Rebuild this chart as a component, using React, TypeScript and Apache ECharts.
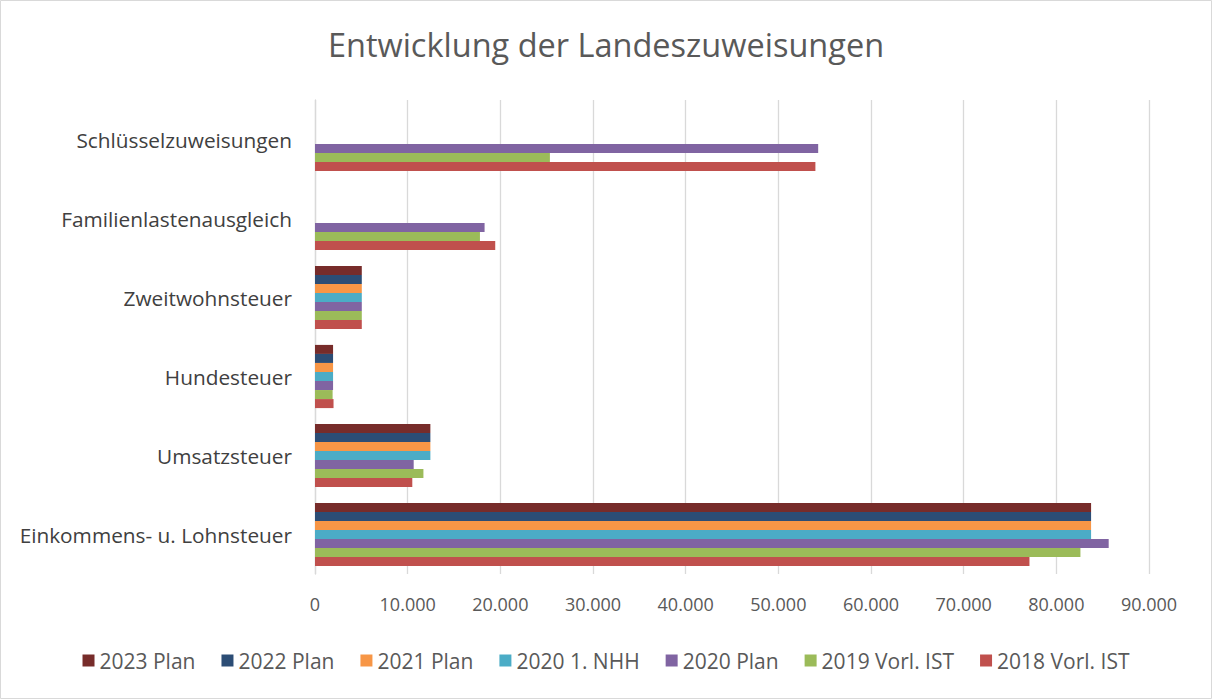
import React, { useEffect, useRef } from "react";
import * as echarts from "echarts";

const categories = [
  "Einkommens- u. Lohnsteuer",
  "Umsatzsteuer",
  "Hundesteuer",
  "Zweitwohnsteuer",
  "Familienlastenausgleich",
  "Schlüsselzuweisungen",
];

const seriesNames = [
  "2023 Plan",
  "2022 Plan",
  "2021 Plan",
  "2020 1. NHH",
  "2020 Plan",
  "2019 Vorl. IST",
  "2018 Vorl. IST",
];

const seriesColors = ["#772C2A", "#2C4D75", "#F79646", "#4BACC6", "#8064A2", "#9BBB59", "#C0504D"];

const v2023 = [83750, 12450, 1950, 5050, null, null];
const v2022 = [83750, 12450, 1950, 5050, null, null];
const v2021 = [83750, 12450, 1950, 5050, null, null];
const v2020NHH = [83750, 12450, 1950, 5050, null, null];
const v2020Plan = [85650, 10650, 1950, 5050, 18300, 54300];
const v2019 = [82600, 11700, 1900, 5050, 17800, 25350];
const v2018 = [77100, 10500, 2000, 5050, 19450, 54000];

const seriesValues = [v2023, v2022, v2021, v2020NHH, v2020Plan, v2019, v2018];

const xTicks = { min: 0, max: 90000, interval: 10000 };

const FONT = "'Open Sans', Lato, sans-serif";

export default function App() {
  const ref = useRef<HTMLDivElement>(null);
  useEffect(() => {
    if (!ref.current) return;
    const chart = echarts.init(ref.current, undefined, { renderer: "svg" });
    chart.setOption({
      animation: false,
      backgroundColor: "#ffffff",
      textStyle: { fontFamily: FONT },
      title: {
        text: "Entwicklung der Landeszuweisungen",
        left: "center",
        top: 23,
        textStyle: { fontSize: 32.5, fontWeight: "normal", color: "#595959", fontFamily: FONT },
      },
      graphic: [
        {
          type: "rect",
          shape: { x: 0.5, y: 0.5, width: 1211, height: 698 },
          style: { fill: "none", stroke: "#d9d9d9", lineWidth: 1 },
          silent: true,
        },
      ],
      legend: {
        data: seriesNames,
        top: 645,
        left: "center",
        icon: "rect",
        itemWidth: 12,
        itemHeight: 12,
        itemGap: 26,
        textStyle: { fontSize: 21, color: "#595959", fontFamily: FONT },
      },
      grid: { left: 315, right: 63, top: 100, bottom: 125, containLabel: false },
      xAxis: {
        type: "value",
        min: xTicks.min,
        max: xTicks.max,
        interval: xTicks.interval,
        axisLine: { show: false },
        axisTick: { show: false },
        splitLine: { show: true, lineStyle: { color: "#d9d9d9", width: 1.3 } },
        axisLabel: {
          fontSize: 18,
          color: "#595959",
          margin: 21,
          fontFamily: FONT,
          formatter: (v: number) => v.toString().replace(/\B(?=(\d{3})+(?!\d))/g, "."),
        },
      },
      yAxis: {
        type: "category",
        data: categories,
        axisLine: { show: true, lineStyle: { color: "#d9d9d9", width: 1.3 } },
        axisTick: { show: false },
        axisLabel: { fontSize: 20.8, color: "#404040", margin: 23, fontFamily: FONT },
      },
      series: seriesNames.map((name, i) => ({
        name,
        type: "bar",
        data: seriesValues[i],
        barGap: "0%",
        barCategoryGap: "20%",
        itemStyle: { color: seriesColors[i] },
      })),
    });
    return () => chart.dispose();
  }, []);
  return <div ref={ref} style={{ position: "absolute", left: 0, top: 0, width: 1212, height: 699 }} />;
}
